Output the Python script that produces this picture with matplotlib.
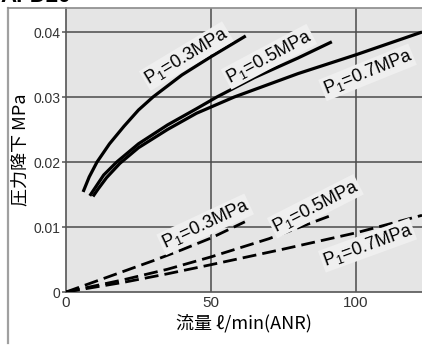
import matplotlib
matplotlib.use("Agg")
import matplotlib.pyplot as plt
from matplotlib.lines import Line2D

plt.rcParams['font.family'] = ['Liberation Sans', 'DejaVu Sans']
plt.rcParams['mathtext.default'] = 'regular'

# solid curves (upper group)
x_s03 = [5.9, 8, 10.7, 15, 20, 25, 30, 40, 50, 62]
y_s03 = [0.0154, 0.0177, 0.0200, 0.0228, 0.0255, 0.0280, 0.0300, 0.0334, 0.0362, 0.0394]
x_s05 = [8.2, 10, 13, 17.5, 25, 35, 45, 52, 65, 80, 91.7]
y_s05 = [0.0148, 0.0160, 0.0180, 0.0200, 0.0228, 0.0257, 0.0282, 0.0300, 0.0330, 0.0360, 0.0385]
x_s07 = [9.3, 11, 14, 18.6, 25, 35, 45, 58, 80, 100, 122.8]
y_s07 = [0.0147, 0.0158, 0.0176, 0.0198, 0.0222, 0.0250, 0.0275, 0.0300, 0.0336, 0.0365, 0.0400]

# dashed curves (lower group)
x_d03 = [0, 10, 20, 30, 40, 50, 61.7]
y_d03 = [0, 0.0016, 0.0032, 0.0048, 0.0065, 0.0083, 0.0108]
x_d05 = [0, 20, 35, 50, 70, 91]
y_d05 = [0, 0.0019, 0.0035, 0.0054, 0.0082, 0.0117]
x_d07 = [0, 20, 35, 50, 75, 100, 122.8]
y_d07 = [0, 0.0015, 0.0028, 0.0042, 0.0066, 0.0091, 0.0118]

labels = ['P$_1$=0.3MPa', 'P$_1$=0.5MPa', 'P$_1$=0.7MPa']
xticks = [0, 50, 100]
yticks = [0, 0.01, 0.02, 0.03, 0.04]
ytick_labels = ['0', '0.01', '0.02', '0.03', '0.04']

fig = plt.figure(figsize=(4.22, 3.47), dpi=100)
ax = fig.add_axes([66/422, 55/347, 1 - 66/422, 284/347])
ax.set_facecolor('#e5e5e5')
ax.set_xlim(0, 122.8)
ax.set_ylim(0, 0.0437)

for v in xticks[1:]:
    ax.axvline(v, color='#4a4a4a', lw=1.1, zorder=1)
for v in yticks[1:]:
    ax.axhline(v, color='#4a4a4a', lw=1.1, zorder=1)

for xs, ys in [(x_s03, y_s03), (x_s05, y_s05), (x_s07, y_s07)]:
    ax.plot(xs, ys, color='black', lw=2.3, solid_capstyle='butt', zorder=3)
for xs, ys in [(x_d03, y_d03), (x_d05, y_d05), (x_d07, y_d07)]:
    ax.plot(xs, ys, color='black', lw=2.0, dashes=(5, 2.2), zorder=3)

box = dict(facecolor='#efefef', edgecolor='none', pad=1.0)
txt = dict(fontsize=13, ha='center', va='center', bbox=box, zorder=4)
# upper labels
ax.text(41.5, 0.0363, labels[0], rotation=31, **txt)
ax.text(70, 0.0362, labels[1], rotation=28, **txt)
ax.text(104, 0.0338, labels[2], rotation=22, **txt)
# lower labels
ax.text(48, 0.0104, labels[0], rotation=25, **txt)
ax.text(86, 0.0132, labels[1], rotation=27, **txt)
ax.text(104, 0.0072, labels[2], rotation=20, **txt)

ax.set_xticks(xticks)
ax.set_xticklabels([str(v) for v in xticks], fontsize=11, color='#333333')
ax.set_yticks(yticks)
ax.set_yticklabels(ytick_labels, fontsize=10, color='#333333')
ax.tick_params(axis='x', length=0, pad=3)
ax.tick_params(axis='y', length=3, width=1.1, color='#555555', pad=1)

for s in ['top', 'right']:
    ax.spines[s].set_visible(False)
for s in ['left', 'bottom']:
    ax.spines[s].set_color('#555555')
    ax.spines[s].set_linewidth(1.2)

ax.set_xlabel('流量 ℓ/min(ANR)', fontsize=13, family=['Noto Sans CJK JP', 'DejaVu Sans'], labelpad=3)
ax.set_ylabel('圧力降下 MPa', fontsize=13, family=['Noto Sans CJK JP', 'DejaVu Sans'], labelpad=3)

# outer frame
fig.add_artist(Line2D([8/422, 8/422], [1 - 8/347, 1 - 343/347], color='#a0a0a0', lw=1.6))
fig.add_artist(Line2D([8/422, 1], [1 - 8/347, 1 - 8/347], color='#8a8a8a', lw=1.2))

# title, mostly cut off at the top edge as in the source
fig.text(0.0, 1 - 1.5/347, 'AFD20', fontsize=16, fontweight='bold', va='baseline', ha='left')

fig.savefig('out.png', dpi=100)
